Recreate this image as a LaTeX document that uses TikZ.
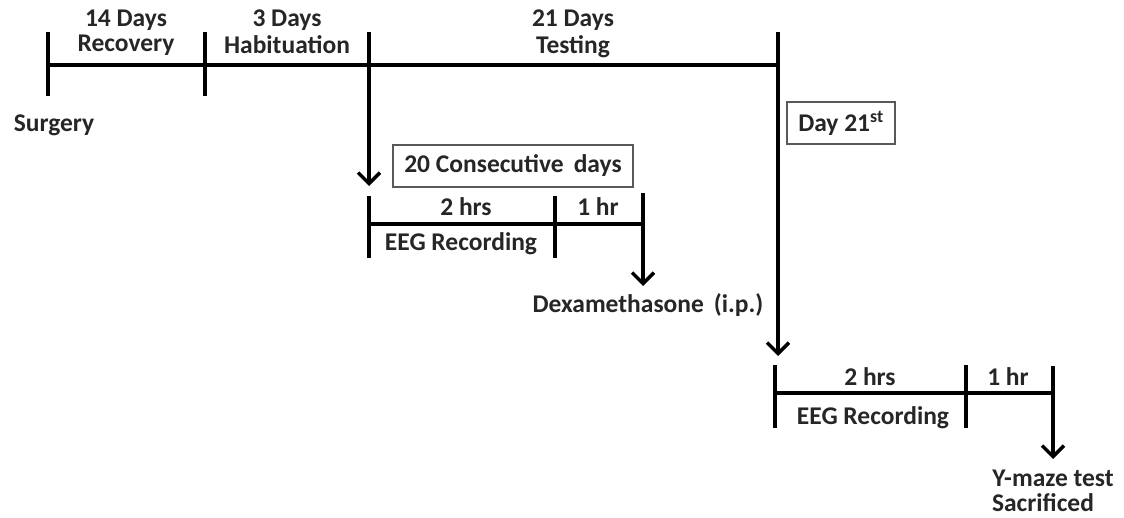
\documentclass[tikz,border=0pt]{standalone}
\usepackage{fontspec}
\setmainfont{Carlito}
\usetikzlibrary{arrows.meta}
\tikzset{
  tl/.style={line width=4pt, line cap=butt},
  arr/.style={line width=4pt, -{Straight Barb[length=11pt,width=22pt,line width=3.5pt]}},
  lbl/.style={font=\fontsize{25.5}{28}\selectfont\bfseries, inner sep=0pt, text=black!85},
  tbox/.style={draw=black!65, line width=1.3pt, font=\fontsize{25.5}{28}\selectfont\bfseries, inner sep=0pt, text=black!85}
}
\begin{document}
\begin{tikzpicture}[x=1pt,y=-1pt]
\useasboundingbox (0,0) rectangle (1124,517);
% main timeline
\coordinate (m0) at (48,65);
\coordinate (m1) at (205,65);
\coordinate (m2) at (369,65);
\coordinate (m3) at (778,65);
\draw[tl] (m0) -- (m3);
\draw[tl] (48,32) -- (48,96);
\draw[tl] (205,32) -- (205,96);
\coordinate (a1s) at (369,32);
\coordinate (a1e) at (369,186);
\draw[arr] (a1s) -- (a1e);
\coordinate (a2s) at (778,32);
\coordinate (a2e) at (778,356);
\draw[arr] (a2s) -- (a2e);
\node[lbl] (t1) at (126,20) {14 Days};
\node[lbl] (t1b) at (126,45) {Recovery};
\node[lbl] (t2) at (287,20) {3 Days};
\node[lbl] (t2b) at (287,45) {Habituation};
\node[lbl] (t3) at (573,20) {21 Days};
\node[lbl] (t3b) at (573,47) {Testing};
\node[lbl] (surg) at (54,125) {Surgery};
% box 20 consecutive days
\node[tbox, minimum width=240pt, minimum height=42pt] (b20) at (513,166) {20 Consecutive\, days};
% second timeline
\coordinate (s0) at (369,224);
\coordinate (s1) at (555,224);
\coordinate (s2) at (643,224);
\draw[tl] (s0) -- (s2);
\draw[tl] (369,196) -- (369,258);
\draw[tl] (555,196) -- (555,258);
\coordinate (a3s) at (643,193);
\coordinate (a3e) at (643,286);
\draw[arr] (a3s) -- (a3e);
\node[lbl] (h2a) at (466,207) {2 hrs};
\node[lbl] (h1a) at (598,207) {1 hr};
\node[lbl] (eega) at (461,244) {EEG Recording};
\node[lbl] (dex) at (648,305) {Dexamethasone\, (i.p.)};
% day 21 box
\node[tbox, minimum width=108pt, minimum height=42pt] (d21) at (841,123) {Day 21\textsuperscript{st}};
% third timeline
\coordinate (u0) at (775,393);
\coordinate (u1) at (966,393);
\coordinate (u2) at (1053,393);
\draw[tl] (u0) -- (u2);
\draw[tl] (775,365) -- (775,428);
\draw[tl] (966,365) -- (966,428);
\coordinate (a4s) at (1053,366);
\coordinate (a4e) at (1053,459);
\draw[arr] (a4s) -- (a4e);
\node[lbl] (h2b) at (870,377) {2 hrs};
\node[lbl] (h1b) at (1008,377) {1 hr};
\node[lbl] (eegb) at (873,418) {EEG Recording};
\node[lbl] (ym) at (1053,478) {Y-maze test};
\node[lbl] (sac) at (1043,503) {Sacrificed};
\end{tikzpicture}
\end{document}
